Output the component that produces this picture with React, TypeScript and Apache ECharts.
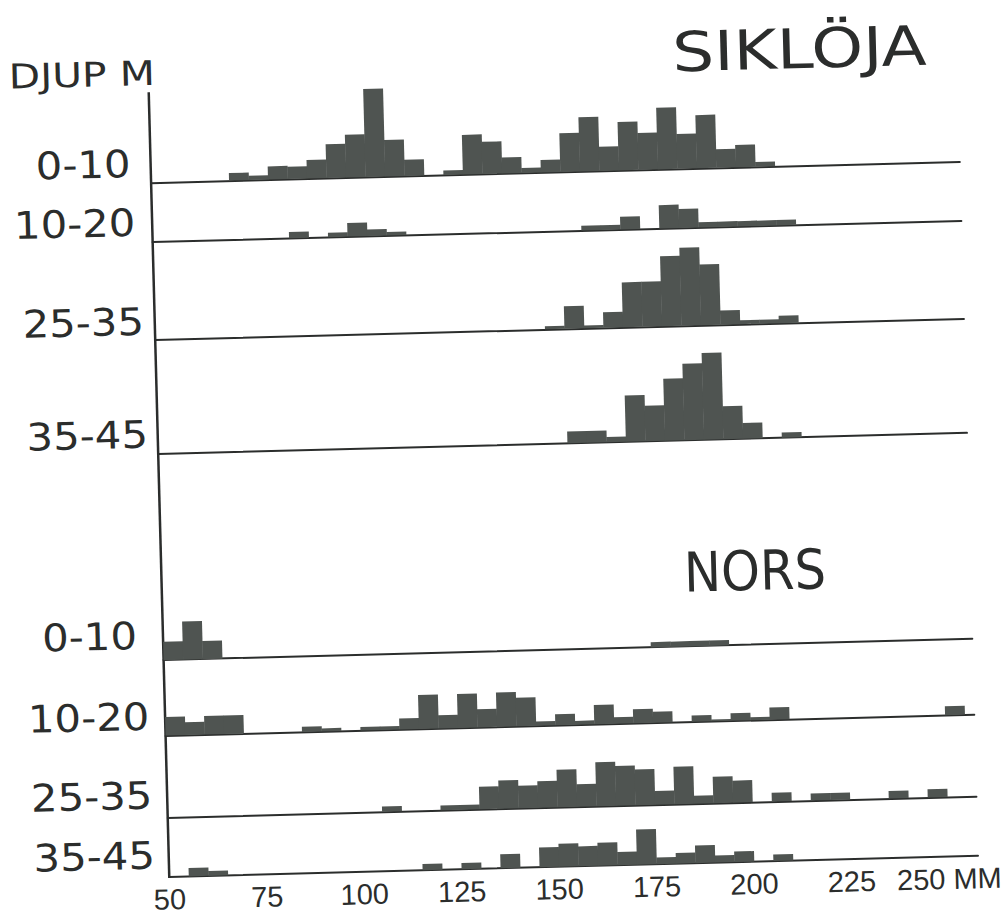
import React, { useEffect, useRef } from "react";
import * as echarts from "echarts";

// Length classes (lower edge of each 5 mm bin)
const BIN_STARTS = [
  50, 55, 60, 65, 70, 75, 80, 85, 90, 95, 100, 105, 110, 115, 120, 125, 130, 135, 140, 145, 150,
  155, 160, 165, 170, 175, 180, 185, 190, 195, 200, 205, 210, 215, 220, 225, 230, 235, 240, 245,
  250, 255,
];
const BIN_WIDTH = 5;

// Relative frequencies
const SIK_0_10 = [
  0, 0, 0, 0, 1.7, 1.0, 3.0, 2.8, 4.2, 7.7, 9.7, 20, 8.3, 3.7, 0, 1.0, 9.0, 7.3, 3.6, 1.1, 2.8,
  8.8, 12.3, 5.5, 11.0, 8.4, 14.0, 7.9, 12.1, 4.2, 5.1, 1.1, 0, 0, 0, 0, 0, 0, 0, 0, 0, 0,
];
const SIK_10_20 = [
  0, 0, 0, 0, 0, 0, 0, 1.4, 0, 1.0, 3.1, 1.5, 0.8, 0, 0, 0, 0, 0, 0, 0, 0,
  0, 1.1, 1.1, 2.9, 0, 5.3, 4.3, 1.2, 1.2, 1.2, 1.2, 1.2, 0, 0, 0, 0, 0, 0, 0, 0, 0,
];
const SIK_25_35 = [
  0, 0, 0, 0, 0, 0, 0, 0, 0, 0, 0, 0, 0, 0, 0, 0, 0, 0, 0, 0, 0.7,
  5.1, 0.6, 3.5, 10.2, 10.2, 15.9, 17.7, 13.8, 3.2, 0.9, 0.9, 1.7, 0, 0, 0, 0, 0, 0, 0, 0, 0,
];
const SIK_35_45 = [
  0, 0, 0, 0, 0, 0, 0, 0, 0, 0, 0, 0, 0, 0, 0, 0, 0, 0, 0, 0, 0,
  2.7, 2.7, 1.2, 10.5, 8.1, 14.1, 17.4, 19.7, 7.5, 3.6, 0, 1.2, 0, 0, 0, 0, 0, 0, 0, 0, 0,
];
const NORS_0_10 = [
  4.2, 8.7, 4.1, 0, 0, 0, 0, 0, 0, 0, 0, 0, 0, 0, 0, 0, 0, 0, 0, 0, 0,
  0, 0, 0, 0, 1.2, 1.2, 1.2, 1.2, 0, 0, 0, 0, 0, 0, 0, 0, 0, 0, 0, 0, 0,
];
const NORS_10_20 = [
  4.2, 2.9, 4.2, 4.2, 0, 0, 0, 1.2, 0.7, 0, 0.8, 0.8, 2.5, 7.7, 3.0, 7.7, 4.1, 7.8, 6.5, 1.0, 2.5,
  0.9, 4.4, 1.5, 3.2, 2.5, 0, 1.4, 0.4, 1.7, 0.7, 2.8, 0, 0, 0, 0, 0, 0, 0, 0, 2.0, 0,
];
const NORS_25_35 = [
  0, 0, 0, 0, 0, 0, 0, 0, 0, 0, 0, 1.2, 0, 0, 1.1, 1.1, 5.1, 6.4, 5.1, 6.0, 8.5,
  5.1, 10.0, 9.0, 8.1, 3.1, 8.5, 1.8, 6.0, 5.0, 0, 2.0, 0, 1.6, 1.6, 0, 0, 1.7, 0, 1.9, 0, 0,
];
const NORS_35_45 = [
  0, 1.9, 1.1, 0, 0, 0, 0, 0, 0, 0, 0, 0, 0, 1.4, 0, 1.4, 0, 3.2, 0, 4.5, 5.2,
  4.5, 5.2, 3.0, 8.0, 1.5, 2.4, 4.0, 1.6, 2.4, 0, 1.5, 0, 0, 0, 0, 0, 0, 0, 0, 0, 0,
];

const DEPTH_LABELS = ["0-10", "10-20", "25-35", "35-45"];
const X_TICKS = [50, 75, 100, 125, 150, 175, 200, 225, 250];
const X_UNIT = "MM";
const Y_TITLE = "DJUP M";
const SPECIES = ["SIKLÖJA", "NORS"];

const PANELS = [
  { values: SIK_0_10, yMax: 21 },
  { values: SIK_10_20, yMax: 7 },
  { values: SIK_25_35, yMax: 19 },
  { values: SIK_35_45, yMax: 21 },
  { values: NORS_0_10, yMax: 10 },
  { values: NORS_10_20, yMax: 9 },
  { values: NORS_25_35, yMax: 11 },
  { values: NORS_35_45, yMax: 9 },
];

// layout (px)
const BASELINES = [173.5, 232.6, 330.4, 445, 651.2, 726.6, 808.5, 868];
const LABEL_POS = [
  [91, 154], [81, 213], [87, 312], [88, 425],
  [85, 626], [82, 707], [83, 786], [84, 846],
];
const UNIT_PX = 4.4;
const GRID_LEFT = 158.5;
const GRID_RIGHT = 40.5;
const X_MIN = 50;
const X_MAX = 257.5;

const INK = "#2b2d2c";
const BAR_FILL = "#4f5451";
const FONT = "'DejaVu Sans', sans-serif";

export default function App() {
  const ref = useRef<HTMLDivElement>(null);

  useEffect(() => {
    if (!ref.current) return;
    const chart = echarts.init(ref.current, null, { renderer: "svg" });

    const grids: any[] = [];
    const xAxes: any[] = [];
    const yAxes: any[] = [];
    const series: any[] = [];

    PANELS.forEach((p, i) => {
      const h = p.yMax * UNIT_PX;
      const last = i === PANELS.length - 1;
      grids.push({
        left: GRID_LEFT,
        right: GRID_RIGHT,
        top: BASELINES[i] - h,
        height: h,
        containLabel: false,
        outerBoundsMode: "none",
      });
      xAxes.push({
        type: "value",
        gridIndex: i,
        min: X_MIN,
        max: X_MAX,
        interval: 25,
        axisLine: { show: true, lineStyle: { color: INK, width: 2 } },
        axisTick: { show: false },
        splitLine: { show: false },
        axisLabel: last
          ? {
              show: true,
              margin: 8,
              fontSize: 29,
              color: INK,
              fontFamily: "'Liberation Sans Narrow', 'Liberation Sans', sans-serif",
              formatter: (v: number) =>
                X_TICKS.indexOf(v) < 0 ? "" : v === 250 ? `${v} ${X_UNIT}` : String(v),
            }
          : { show: false },
      });
      yAxes.push({
        type: "value",
        gridIndex: i,
        min: 0,
        max: p.yMax,
        show: false,
      });
      series.push({
        type: "custom",
        xAxisIndex: i,
        yAxisIndex: i,
        encode: { x: 0, y: 1 },
        data: BIN_STARTS.map((b, k) => [b, p.values[k]]),
        renderItem: (_params: any, api: any) => {
          const start = api.value(0);
          const v = api.value(1);
          if (!v) return null;
          const p0 = api.coord([start, v]);
          const p1 = api.coord([start + BIN_WIDTH, 0]);
          return {
            type: "rect",
            shape: { x: p0[0], y: p0[1], width: p1[0] - p0[0] + 0.4, height: p1[1] - p0[1] },
            style: { fill: BAR_FILL },
          };
        },
      });
    });

    const texts: any[] = [
      {
        type: "text",
        x: 92,
        y: 64,
        scaleX: 1.2,
        style: { text: Y_TITLE, fontSize: 34, fontFamily: FONT, fill: INK, align: "center", verticalAlign: "middle" },
      },
      {
        type: "text",
        x: 810,
        y: 57,
        scaleX: 1.2,
        style: { text: SPECIES[0], fontSize: 55, fontFamily: FONT, fill: INK, align: "center", verticalAlign: "middle" },
      },
      {
        type: "text",
        x: 752,
        y: 577,
        scaleX: 0.9,
        style: { text: SPECIES[1], fontSize: 55, fontFamily: FONT, fill: INK, align: "center", verticalAlign: "middle" },
      },
      {
        type: "line",
        shape: { x1: GRID_LEFT, y1: 83, x2: GRID_LEFT, y2: BASELINES[7] + 1 },
        style: { stroke: INK, lineWidth: 2.5 },
      },
    ];
    LABEL_POS.forEach((pos, i) => {
      texts.push({
        type: "text",
        x: pos[0],
        y: pos[1],
        scaleX: 1.1,
        style: {
          text: DEPTH_LABELS[i % 4],
          fontSize: 38,
          fontFamily: FONT,
          fill: INK,
          align: "center",
          verticalAlign: "middle",
        },
      });
    });

    chart.setOption({
      animation: false,
      backgroundColor: "#ffffff",
      grid: grids,
      xAxis: xAxes,
      yAxis: yAxes,
      series,
      graphic: texts,
    });

    return () => chart.dispose();
  }, []);

  return (
    <div
      style={{
        position: "fixed",
        left: 0,
        top: 0,
        width: 1008,
        height: 922,
        background: "#ffffff",
      }}
    >
      <div
        ref={ref}
        style={{
          width: 1008,
          height: 922,
          transform: "rotate(-1.5deg)",
          transformOrigin: "504px 461px",
        }}
      />
    </div>
  );
}
